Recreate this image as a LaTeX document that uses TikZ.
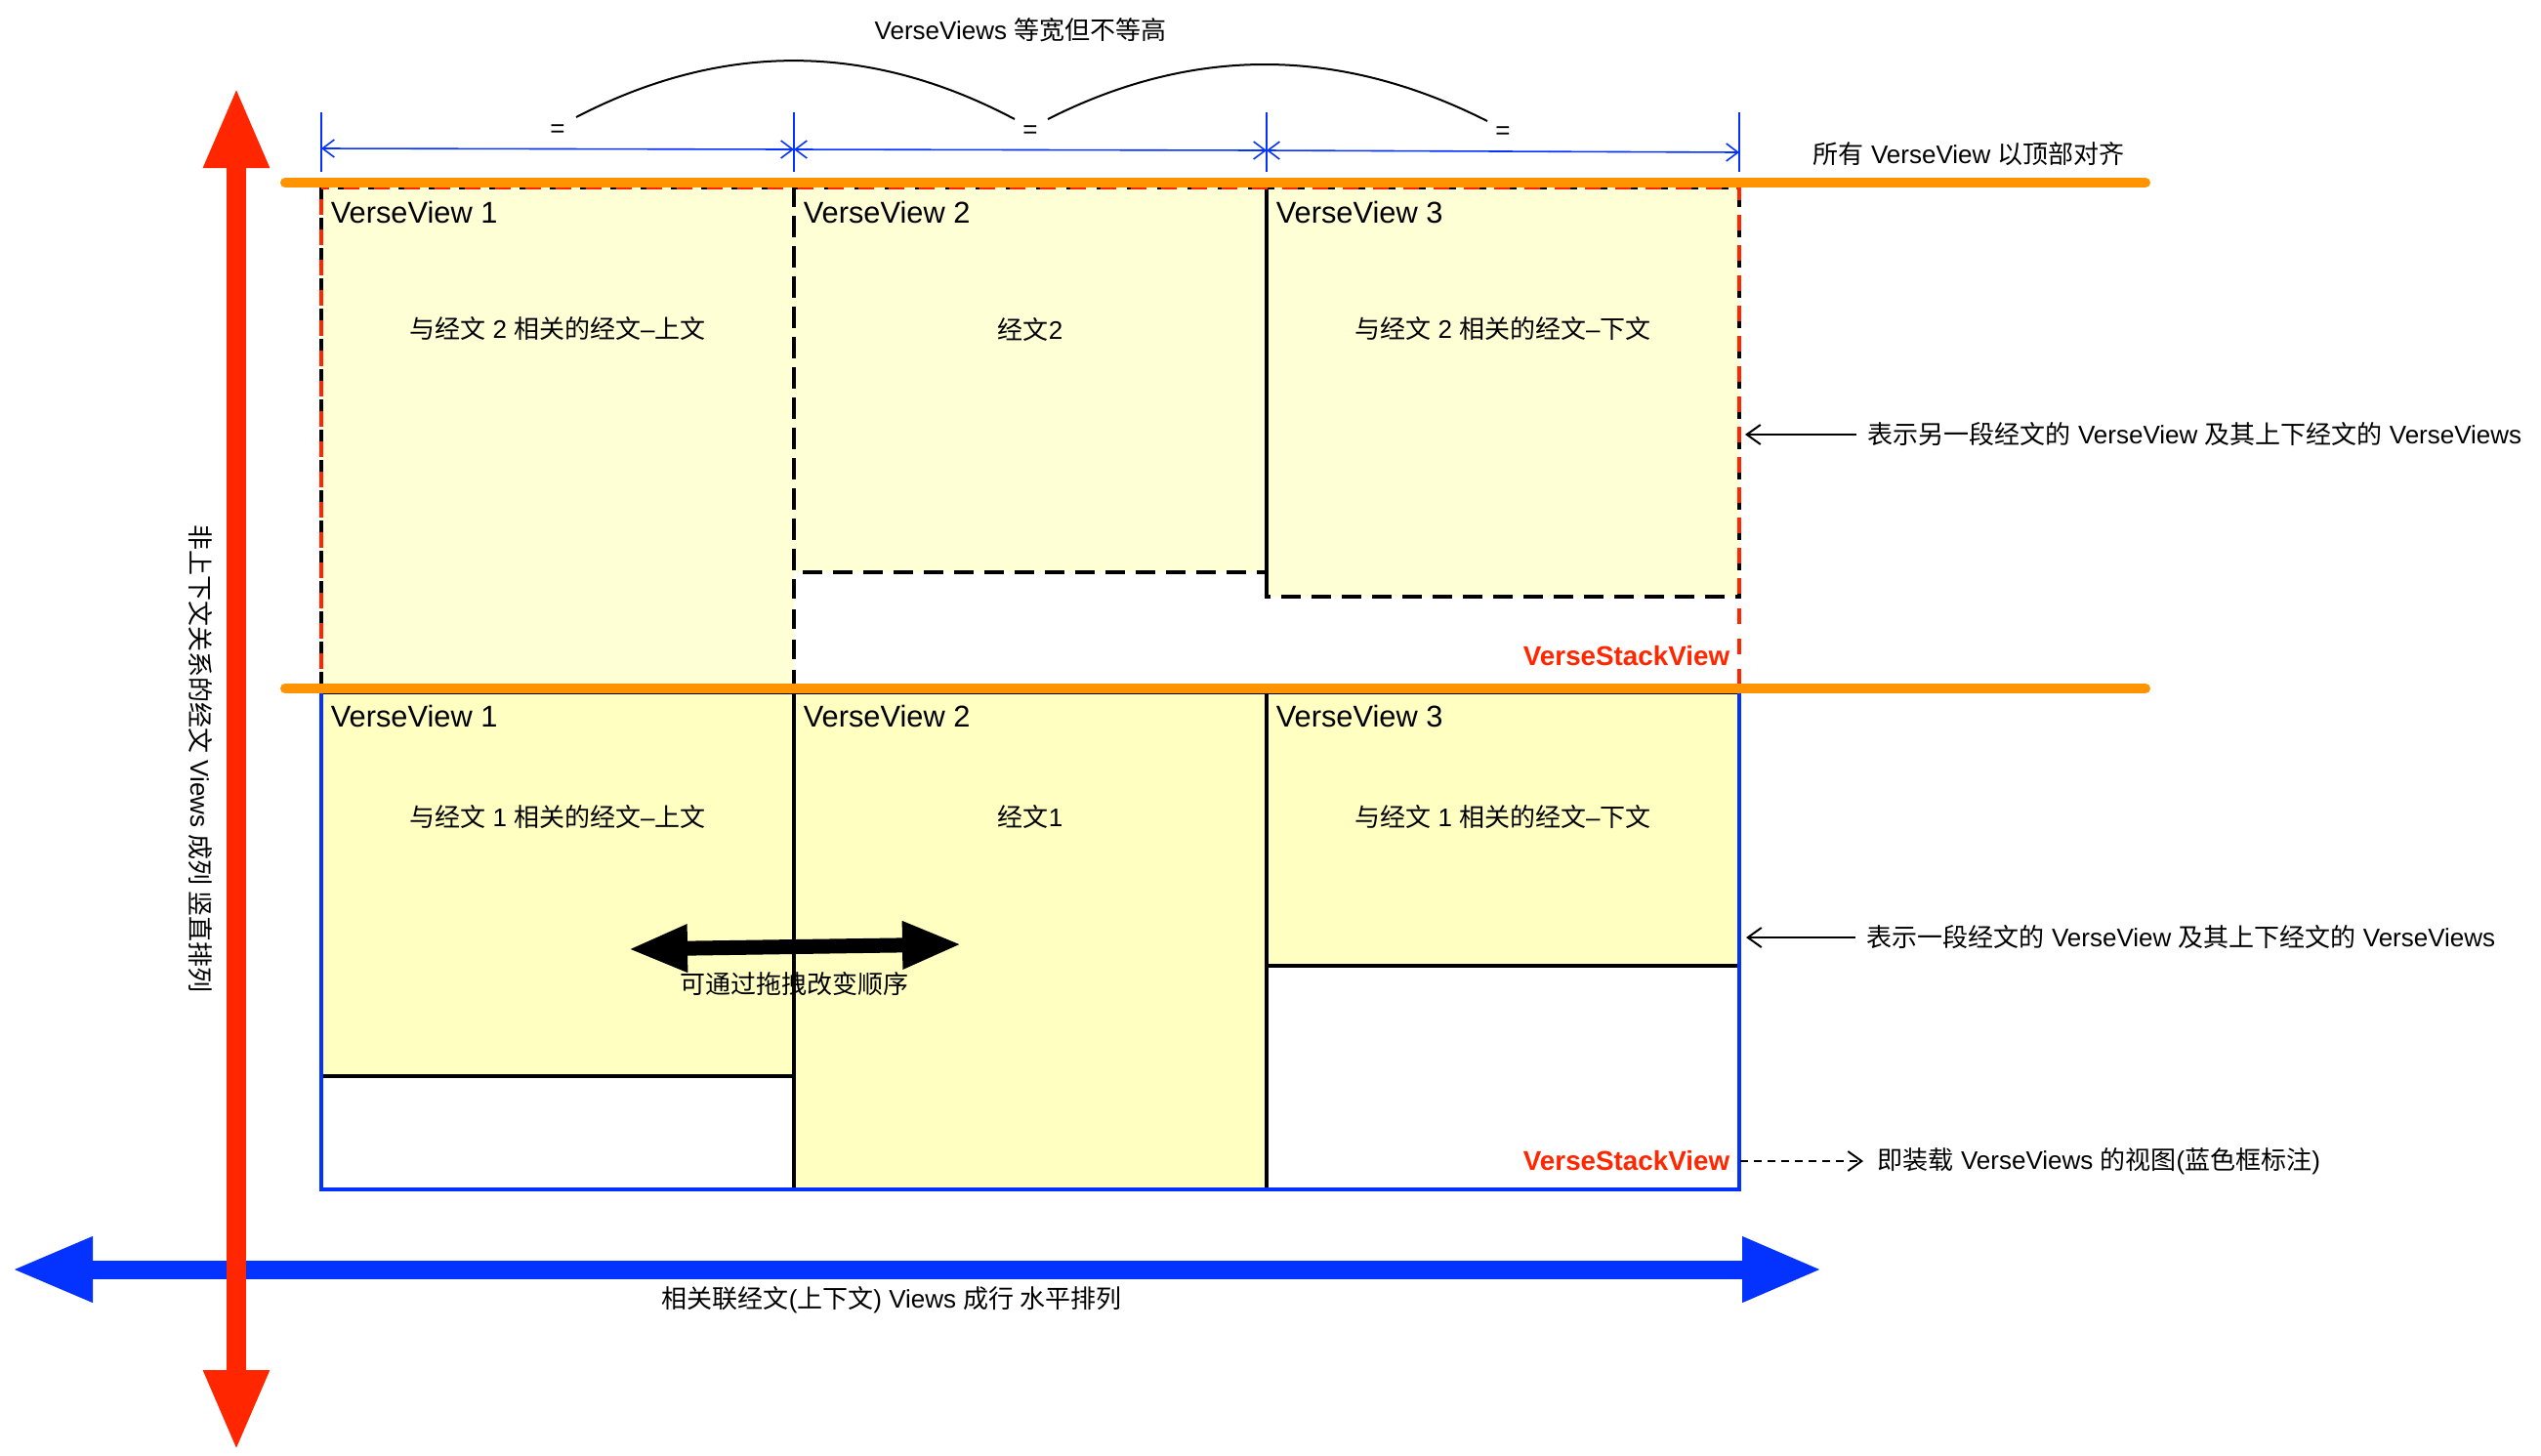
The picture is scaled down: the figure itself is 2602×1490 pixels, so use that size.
\documentclass[tikz,border=0pt]{standalone}
\usepackage{fontspec}
\setmainfont{Liberation Sans}
\newfontfamily\cjk{Noto Sans CJK SC}
\newcommand\zh[1]{{\cjk #1}}
\usetikzlibrary{arrows.meta}
\definecolor{vred}{HTML}{FF2600}
\definecolor{vblue}{HTML}{0433FF}
\definecolor{vorange}{HTML}{FF9300}
\definecolor{yelA}{HTML}{FFFFD6}
\definecolor{yelB}{HTML}{FFFFC2}
\begin{document}
\begin{tikzpicture}[x=0.25pt,y=-0.25pt,
  lbl/.style={font=\fontsize{6.5pt}{8pt}\selectfont, inner sep=0pt},
  vvname/.style={font=\fontsize{7.7pt}{9pt}\selectfont, inner sep=0pt, anchor=west},
  stacklbl/.style={font=\bfseries\fontsize{6.95pt}{8pt}\selectfont, text=vred, inner sep=0pt, anchor=east},
  vvtop/.style={draw=black, line width=1pt, dash pattern=on 5pt off 2.75pt},
  vvbot/.style={draw=black, line width=1pt},
  dimline/.style={draw=vblue, line width=0.4pt, {Straight Barb[length=3pt,width=4.5pt]}-{Straight Barb[length=3pt,width=4.5pt]}},
  dimtick/.style={draw=vblue, line width=0.4pt},
  notearrow/.style={draw=black, line width=0.5pt, -{Straight Barb[length=3.5pt,width=5pt]}},
  orangeline/.style={draw=vorange, line width=2.5pt, line cap=round},
  arcline/.style={draw=black, line width=0.5pt},
]
\useasboundingbox (0,0) rectangle (2602,1490);

% ---------- top row (another verse) ----------
\fill[yelA] (329,192) rectangle (813,703);
\fill[yelA] (813,192) rectangle (1297,586);
\fill[yelA] (1297,192) rectangle (1781,611);
\draw[vvtop] (329,192) rectangle (813,703);
\draw[vvtop] (813,192) rectangle (1297,586);
\draw[vvtop] (1297,192) rectangle (1781,611);
\draw[black, line width=1pt] (1297,192) -- (1297,598);
\draw[vred, line width=0.8pt, dash pattern=on 4pt off 3.75pt, dash phase=-3pt] (329,192) rectangle (1781,703);

% ---------- bottom row (a verse) ----------
\fill[yelB] (329,709) rectangle (813,1102);
\fill[yelB] (813,709) rectangle (1297,1218);
\fill[yelB] (1297,709) rectangle (1781,989);
\draw[vvbot] (329,709) rectangle (813,1102);
\draw[vvbot] (813,709) rectangle (1297,1218);
\draw[vvbot] (1297,709) rectangle (1781,989);
\draw[vblue, line width=1pt] (329,703) rectangle (1781,1218);

% ---------- orange alignment lines ----------
\coordinate (o1a) at (292,187);
\coordinate (o1b) at (2197,187);
\coordinate (o2a) at (292,705);
\coordinate (o2b) at (2197,705);
\draw[orangeline] (o1a) -- (o1b);
\draw[orangeline] (o2a) -- (o2b);

% ---------- labels in boxes ----------
\node[vvname] (t1) at (338,217) {VerseView 1};
\node[vvname] (t2) at (822,217) {VerseView 2};
\node[vvname] (t3) at (1306,217) {VerseView 3};
\node[vvname] (b1) at (338,733) {VerseView 1};
\node[vvname] (b2) at (822,733) {VerseView 2};
\node[vvname] (b3) at (1306,733) {VerseView 3};

\node[lbl] (tc1) at (571,337) {\zh{与经文} 2 \zh{相关的经文}–\zh{上文}};
\node[lbl] (tc2) at (1055,337) {\zh{经文}2};
\node[lbl] (tc3) at (1539,337) {\zh{与经文} 2 \zh{相关的经文}–\zh{下文}};
\node[lbl] (bc1) at (571,836) {\zh{与经文} 1 \zh{相关的经文}–\zh{上文}};
\node[lbl] (bc2) at (1055,836) {\zh{经文}1};
\node[lbl] (bc3) at (1539,836) {\zh{与经文} 1 \zh{相关的经文}–\zh{下文}};

\node[stacklbl] (vs1) at (1772,672) {VerseStackView};
\node[stacklbl] (vs2) at (1772,1189) {VerseStackView};

% ---------- width dimensions ----------
\coordinate (k1a) at (329,115); \coordinate (k1b) at (329,176);
\coordinate (k2a) at (813,115); \coordinate (k2b) at (813,176);
\coordinate (k3a) at (1297,115); \coordinate (k3b) at (1297,176);
\coordinate (k4a) at (1781,115); \coordinate (k4b) at (1781,176);
\draw[dimtick] (k1a) -- (k1b);
\draw[dimtick] (k2a) -- (k2b);
\draw[dimtick] (k3a) -- (k3b);
\draw[dimtick] (k4a) -- (k4b);
\coordinate (d1a) at (329,152); \coordinate (d1b) at (813,153);
\coordinate (d2a) at (813,153); \coordinate (d2b) at (1297,154);
\coordinate (d3a) at (1297,154); \coordinate (d3b) at (1781,156);
\draw[dimline] (d1a) -- (d1b);
\draw[dimline] (d2a) -- (d2b);
\draw[dimline] (d3a) -- (d3b);
\node[lbl] (eq1) at (571,134) {=};
\node[lbl] (eq2) at (1055,135) {=};
\node[lbl] (eq3) at (1539,136) {=};
\coordinate (a1s) at (590,120);
\coordinate (a1e) at (1039,122);
\coordinate (a2s) at (1073,122);
\coordinate (a2e) at (1523,124);
\draw[arcline] (a1s) .. controls (740,42) and (890,43) .. (a1e);
\draw[arcline] (a2s) .. controls (1221,47) and (1371,47) .. (a2e);
\node[lbl] (title) at (1045,31) {VerseViews \zh{等宽但不等高}};

% ---------- annotations ----------
\node[lbl, anchor=west] (topalign) at (1856,158) {\zh{所有} VerseView \zh{以顶部对齐}};
\node[lbl, anchor=west] (note1) at (1912,445) {\zh{表示另一段经文的} VerseView \zh{及其上下经文的} VerseViews};
\node[lbl, anchor=west] (note2) at (1911,960) {\zh{表示一段经文的} VerseView \zh{及其上下经文的} VerseViews};
\node[lbl, anchor=west] (note3) at (1922,1189) {\zh{即装载} VerseViews \zh{的视图}(\zh{蓝色框标注})};
\coordinate (n1tip) at (1787,445);
\coordinate (n2tip) at (1788,960);
\draw[notearrow] ([xshift=-2.75pt]note1.west) -- (n1tip);
\draw[notearrow] ([xshift=-2.75pt]note2.west) -- (n2tip);
\draw[notearrow, dash pattern=on 2pt off 1.5pt] ([xshift=2.5pt]vs2.east) -- ([xshift=-3.5pt]note3.west);

% ---------- big axis arrows ----------
\coordinate (hL) at (12,1300);
\coordinate (hR) at (1866,1300);
\draw[vblue, line width=4.75pt, {Triangle[length=20.75pt,width=15.5pt]}-{Triangle[length=20.5pt,width=15.5pt]}] (hL) -- (hR);
\coordinate (vT) at (242,89);
\coordinate (vB) at (242,1486);
\draw[vred, line width=5pt, {Triangle[length=20.75pt,width=15.5pt]}-{Triangle[length=20.75pt,width=15.5pt]}] (vT) -- (vB);
\node[lbl] (hlbl) at (913,1331) {\zh{相关联经文}(\zh{上下文}) Views \zh{成行 水平排列}};
\node[lbl, rotate=-90] (vlbl) at (205,777) {\zh{非上下文关系的经文} Views \zh{成列 竖直排列}};

% ---------- drag arrow ----------
\coordinate (dL) at (643,972);
\coordinate (dR) at (985,967);
\draw[black, line width=3.75pt, {Triangle[length=15.25pt,width=11.25pt]}-{Triangle[length=15.25pt,width=11.25pt]}] (dL) -- (dR);
\node[lbl] (draglbl) at (813,1008) {\zh{可通过拖拽改变顺序}};
\end{tikzpicture}
\end{document}
